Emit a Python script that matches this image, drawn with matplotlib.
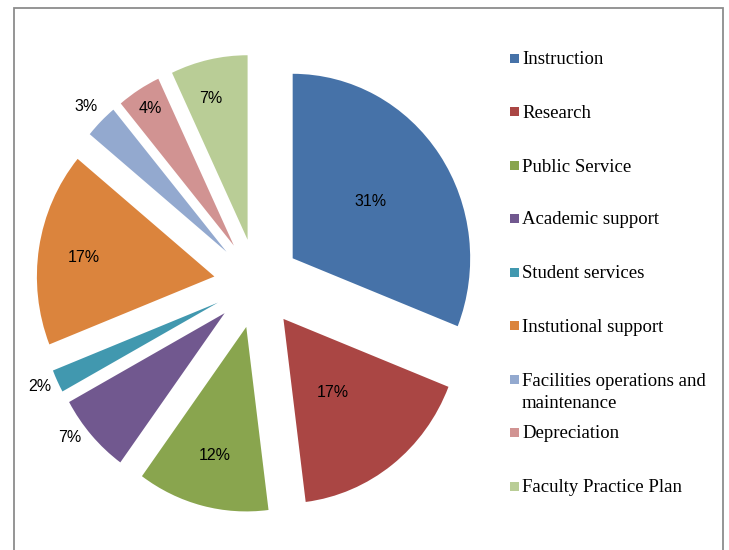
import numpy as np
import matplotlib
matplotlib.use("Agg")
import matplotlib.pyplot as plt
from matplotlib.patches import Rectangle

categories = ["Instruction", "Research", "Public Service", "Academic support",
              "Student services", "Instutional support",
              "Facilities operations and\nmaintenance", "Depreciation",
              "Faculty Practice Plan"]
values = [31, 17, 12, 7, 2, 17, 3, 4, 7]
colors = ["#4672A8", "#AA4644", "#89A54E", "#71588F", "#4198AF",
          "#DB843D", "#93A9CF", "#D19392", "#B9CD96"]

# label placement (style): distance from slice apex (radius units) and angle shift (deg)
label_dist = [0.535, 0.487, 0.72, 1.105, 1.10, 0.74, 1.116, 0.88, 0.795]
label_shift = [1, -3.3, 0, -3.7, -0.9, 1.1, 0.2, 0, 2.5]

W, H = 729, 550
fig = plt.figure(figsize=(W / 100, H / 100), dpi=100)

# pie axes: slightly stretched vertically as in the reference
Rx, Ry = 177.5, 184.5
L = 1.4
Sx, Sy = 2 * L * Rx, 2 * L * Ry
cx, cy = 257, 266.5
ax = fig.add_axes([(cx - Sx / 2) / W, (cy - Sy / 2) / H, Sx / W, Sy / H])
wedges, _ = ax.pie(values, colors=colors, startangle=90, counterclock=False,
                   explode=[0.243] * len(values), radius=1,
                   wedgeprops=dict(linewidth=0))
ax.set_xlim(-L, L)
ax.set_ylim(-L, L)
ax.set_aspect("auto")
ax.set_axis_off()

for w, v, d, sh in zip(wedges, values, label_dist, label_shift):
    mid = np.deg2rad((w.theta1 + w.theta2) / 2 + sh)
    x0, y0 = w.center
    ax.text(x0 + d * np.cos(mid), y0 + d * np.sin(mid), f"{v}%",
            ha="center", va="center", fontsize=11.5,
            family="Liberation Sans", color="black")

# legend (manual)
ys = [58, 111, 165, 218, 272, 325, 379, 432, 486]
for lab, col, y in zip(categories, colors, ys):
    fig.patches.append(Rectangle((510 / W, (H - y - 4.5) / H), 9 / W, 9 / H,
                                 transform=fig.transFigure, facecolor=col,
                                 edgecolor="none"))
    for k, line in enumerate(lab.split("\n")):
        fig.text(522 / W, (H - y - 2 - 22 * k) / H, line, ha="left", va="center",
                 fontsize=13.5, family="Liberation Serif")

# chart border
fig.patches.append(Rectangle((13.5 / W, -10 / H), (723 - 13.5) / W, (H - 8 + 10) / H,
                             transform=fig.transFigure, facecolor="none",
                             edgecolor="#8c8c8c", linewidth=1.3))

fig.savefig("out.png", dpi=100)
